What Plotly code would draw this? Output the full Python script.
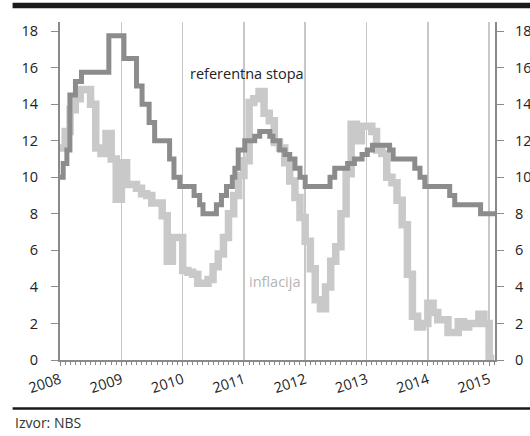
import plotly.graph_objects as go
import pandas as pd

# ---- data ----
# NBS key policy rate (referentna stopa): change dates and values
rate_dates = [
    "2008-01-01", "2008-01-20", "2008-02-11", "2008-02-29", "2008-04-02", "2008-05-08",
    "2008-10-18", "2009-01-16", "2009-04-01", "2009-05-04", "2009-06-15", "2009-07-18",
    "2009-10-15", "2009-11-10", "2009-12-15", "2010-03-10", "2010-04-12", "2010-05-02",
    "2010-07-21", "2010-08-20", "2010-09-19", "2010-10-24", "2010-11-08", "2010-11-28",
    "2011-01-06", "2011-03-06", "2011-04-05", "2011-06-04", "2011-06-23", "2011-08-02",
    "2011-09-02", "2011-10-01", "2011-11-01", "2011-12-01", "2012-01-01", "2012-05-28",
    "2012-06-25", "2012-09-10", "2012-10-20", "2012-12-05", "2013-01-05", "2013-02-05",
    "2013-05-18", "2013-06-08", "2013-10-15", "2013-11-15", "2013-12-14", "2014-05-11",
    "2014-06-10", "2014-11-11", "2015-02-28",
]
rate_values = [
    10.0, 10.75, 11.5, 14.5, 15.25, 15.75,
    17.75, 16.5, 15.0, 14.0, 13.0, 12.0,
    11.0, 10.0, 9.5, 9.0, 8.5, 8.0,
    8.5, 9.0, 9.5, 10.0, 10.5, 11.5,
    12.0, 12.25, 12.5, 12.25, 12.0, 11.5,
    11.25, 11.0, 10.5, 10.0, 9.5, 10.0,
    10.5, 10.75, 11.0, 11.25, 11.5, 11.75,
    11.5, 11.0, 10.5, 10.0, 9.5, 9.0,
    8.5, 8.0, 8.0,
]

# inflation (inflacija), monthly, Jan 2008 - Feb 2015
infl_start = "2008-01-01"
infl_values = [
    11.6, 12.5, 13.7, 14.3, 14.8, 14.8, 14.0, 11.6, 11.3, 12.4, 11.0, 8.8,   # 2008
    10.8, 9.6, 9.6, 9.4, 9.1, 9.0, 8.6, 8.6, 7.9, 5.4, 6.7, 6.7,             # 2009
    4.9, 4.8, 4.7, 4.2, 4.2, 4.4, 5.1, 5.8, 6.7, 8.0, 9.0, 10.1,             # 2010
    10.9, 14.1, 14.3, 14.7, 13.5, 13.1, 11.9, 11.6, 10.8, 9.8, 8.9, 7.8,     # 2011
    6.5, 5.0, 3.3, 2.8, 4.0, 5.4, 6.2, 8.0, 10.2, 12.9, 12.0, 12.8,          # 2012
    12.8, 12.5, 11.5, 11.3, 10.0, 9.7, 8.75, 7.4, 4.7, 2.4, 1.8, 2.0,        # 2013
    3.1, 2.6, 2.2, 2.2, 1.5, 1.5, 2.1, 1.8, 2.0, 2.0, 2.5, 2.0,              # 2014
    0.1, 0.1,                                                                # 2015
]

years = ["2008", "2009", "2010", "2011", "2012", "2013", "2014", "2015"]
y_ticks = [0, 2, 4, 6, 8, 10, 12, 14, 16, 18]

infl_dates = pd.date_range(infl_start, periods=len(infl_values), freq="MS")

AXIS = "#8a8a8a"
FONT = "Open Sans"

fig = go.Figure()
fig.add_trace(go.Scatter(
    x=infl_dates, y=infl_values, mode="lines", line_shape="hv",
    line=dict(color="#c9c9c9", width=7.5), name="inflacija", showlegend=False,
    hoverinfo="skip",
))
fig.add_trace(go.Scatter(
    x=rate_dates, y=rate_values, mode="lines", line_shape="hv",
    line=dict(color="#8c8c8c", width=5), name="referentna stopa", showlegend=False,
    hoverinfo="skip",
))
# invisible trace to activate the right axis
fig.add_trace(go.Scatter(x=[rate_dates[0]], y=[0], yaxis="y2", mode="markers",
                         marker=dict(opacity=0), showlegend=False, hoverinfo="skip"))

fig.update_layout(
    width=530, height=436,
    margin=dict(l=60, r=35, t=22, b=76, autoexpand=False),
    paper_bgcolor="white", plot_bgcolor="white",
    font=dict(family=FONT, size=14, color="#222222"),
    xaxis=dict(
        type="date", range=["2008-01-01", "2015-02-05"],
        tickvals=[f"{y}-01-01" for y in years], ticktext=years,
        tickangle=-18, tickfont=dict(size=14.5, color="#222222"),
        showgrid=True, gridcolor="#c8c8c8", gridwidth=1.5,
        showline=True, linecolor=AXIS, linewidth=2,
        ticks="outside", ticklen=4, tickcolor=AXIS, tickwidth=1,
        minor=dict(ticks="outside", ticklen=3, dtick="M1", tickcolor=AXIS, tickwidth=1, showgrid=False),
        zeroline=False, fixedrange=True, automargin=False,
    ),
    yaxis=dict(
        range=[0, 18.5], tickvals=y_ticks, showgrid=False, zeroline=False,
        showline=True, linecolor=AXIS, linewidth=2,
        ticks="outside", ticklen=7, tickcolor=AXIS, tickwidth=1,
        ticklabelstandoff=10, tickfont=dict(size=14.5, color="#222222"),
        automargin=False, fixedrange=True,
    ),
    yaxis2=dict(
        range=[0, 18.5], tickvals=y_ticks, overlaying="y", side="right",
        showgrid=False, zeroline=False,
        showline=True, linecolor=AXIS, linewidth=2,
        ticks="outside", ticklen=7, tickcolor=AXIS, tickwidth=1,
        ticklabelstandoff=8, tickfont=dict(size=14.5, color="#222222"),
        automargin=False, fixedrange=True,
    ),
    shapes=[
        dict(type="rect", xref="paper", yref="paper", x0=-0.109, x1=1.1,
             y0=1.041, y1=1.057, fillcolor="#1a1a1a", line=dict(width=0)),
        dict(type="line", xref="paper", yref="paper", x0=-0.109, x1=1.1,
             y0=-0.1435, y1=-0.1435, line=dict(color="#1a1a1a", width=2.5)),
    ],
    annotations=[
        dict(text="referentna stopa", xref="paper", yref="paper", x=0.431, y=0.849,
             xanchor="center", yanchor="middle",
             showarrow=False, font=dict(size=14.5, color="#222222", family=FONT)),
        dict(text="inflacija", xref="paper", yref="paper", x=0.493, y=0.232,
             xanchor="center", yanchor="middle",
             showarrow=False, font=dict(size=14.5, color="#b5b5b5", family=FONT)),
        dict(text="Izvor: NBS", xref="paper", yref="paper", x=-0.108, y=-0.186,
             xanchor="left", yanchor="middle",
             showarrow=False, font=dict(size=14, color="#333333", family=FONT)),
    ],
)

# remove the default 8px page margin so the figure fills the 530x436 window
fig.write_html("out.html", config={"displayModeBar": False, "staticPlot": True},
               post_script="document.body.style.margin='0px';")
